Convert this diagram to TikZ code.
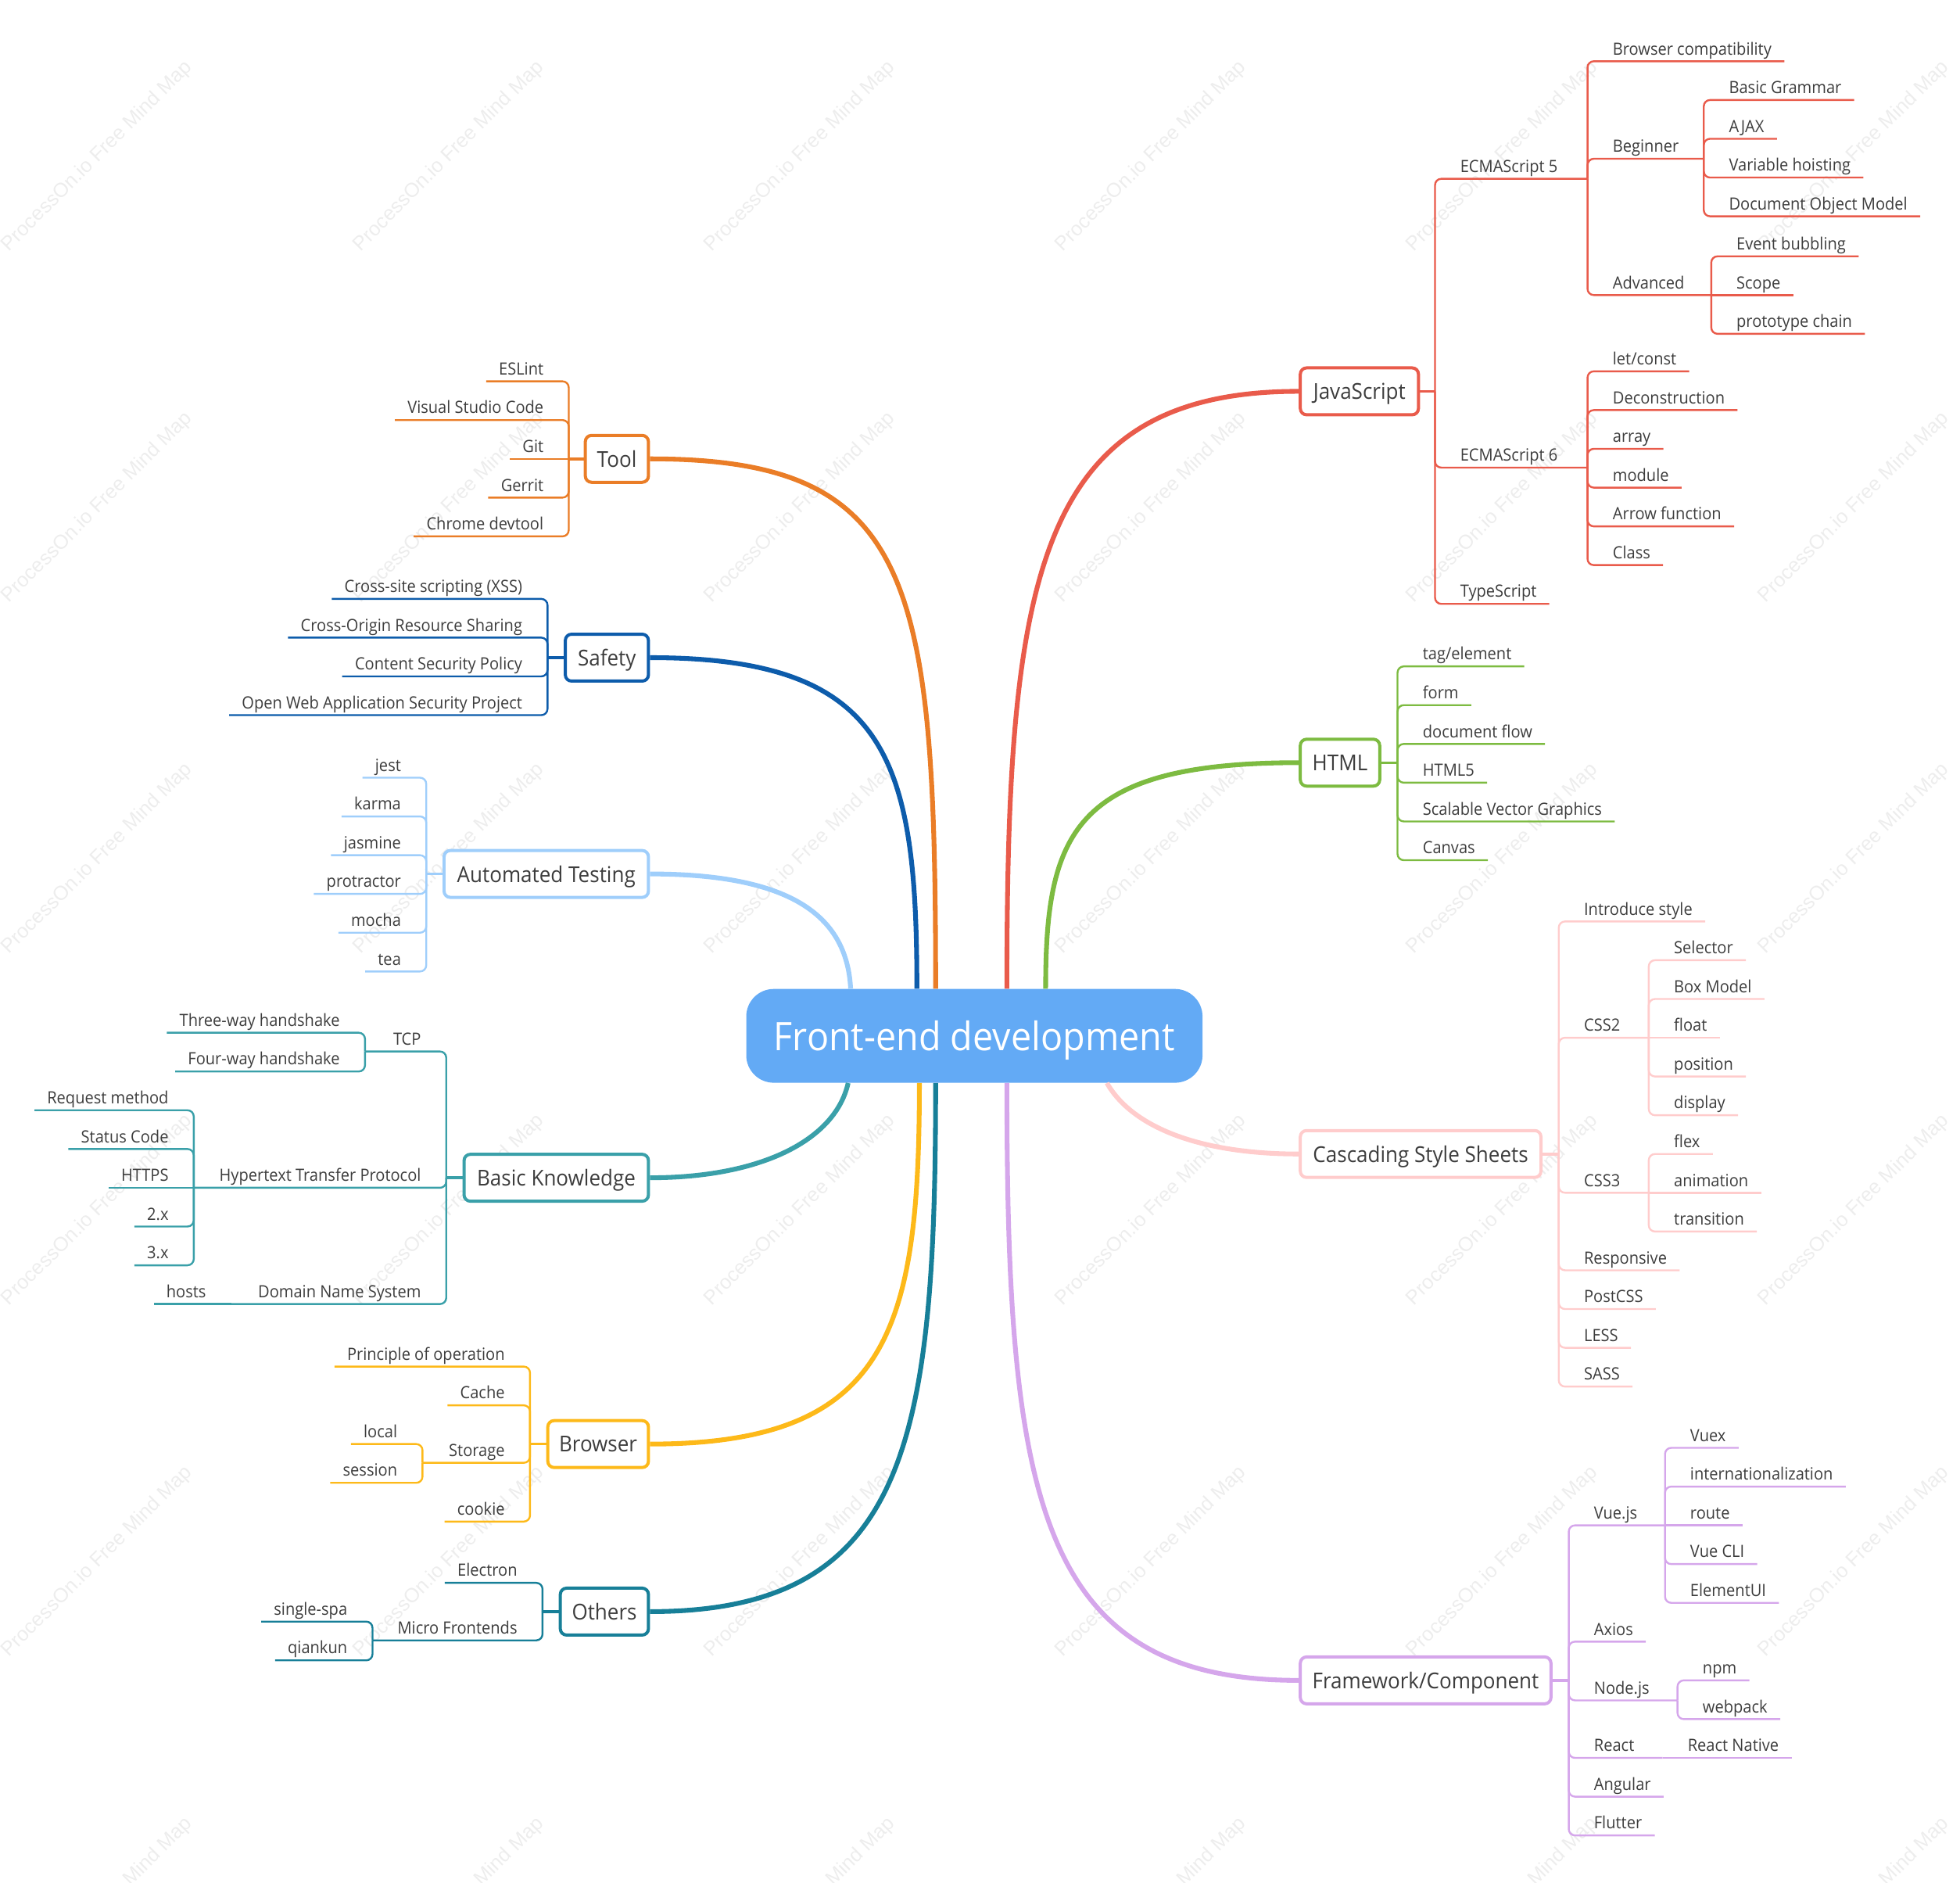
\documentclass[tikz,border=0pt]{standalone}
\usepackage{fontspec}
\setmainfont{Open Sans}[FakeStretch=0.93]
\newfontfamily\wmfont{Liberation Sans}
\definecolor{txtgray}{HTML}{3D3D3D}
\definecolor{wmgray}{HTML}{EDEDED}
\definecolor{rootblue}{HTML}{63AAF5}
\definecolor{jsred}{HTML}{E95B4B}
\definecolor{htmlgreen}{HTML}{7DBB41}
\definecolor{csspink}{HTML}{FFCCCC}
\definecolor{fwpurple}{HTML}{D5A6EB}
\definecolor{toolorange}{HTML}{EA7D27}
\definecolor{safeblue}{HTML}{0D5CAB}
\definecolor{testblue}{HTML}{9FCEFB}
\definecolor{basicteal}{HTML}{3AA0A9}
\definecolor{browyellow}{HTML}{FDB919}
\definecolor{othteal}{HTML}{177F98}
\newcommand\leaffont{\fontsize{13.5}{16}\selectfont}
\newcommand\topicfont{\fontsize{17.5}{21}\selectfont}
\newcommand\rootfont{\fontsize{31.4}{37}\selectfont}
\tikzset{
  leaf/.style={inner xsep=10pt, inner ysep=5pt, text height=10pt, text depth=0pt, font=\leaffont, text=txtgray},
  rleaf/.style={leaf, anchor=south west},
  lleaf/.style={leaf, anchor=south east},
  topic/.style={draw, line width=2.5pt, rounded corners=5pt, fill=white, minimum height=37.5pt, inner xsep=6pt, text depth=0pt, font=\topicfont, text=txtgray},
  branch/.style={line width=1.5pt, rounded corners=5pt},
  stub/.style={line width=2.2pt},
  trunk/.style={line width=3.8pt},
  watermark/.style={font=\wmfont\fontsize{16}{18}\selectfont, text=wmgray, rotate=45},
}
\begin{document}
\begin{tikzpicture}[x=1pt, y=-1pt]
\useasboundingbox (0,0) rectangle (1568,1506);
% watermark
\begin{scope}
\clip (0,0) rectangle (1568,1506);
\foreach \i in {0,...,5}
  \foreach \j in {0,...,5}
    \node[watermark] at ({78+281*\i},{125+281*\j}) {ProcessOn.io Free Mind Map};
\end{scope}

% centre and main topics
\node[fill=rootblue, rounded corners=22pt, minimum width=365pt, minimum height=75pt, text depth=0pt, text=white, font=\rootfont] (root) at (779.5,828.5) {Front-end development};
\node[topic, draw=jsred, minimum width=94.5pt, anchor=west] (js) at (1039,313) {JavaScript};
\node[topic, draw=htmlgreen, minimum width=63.5pt, anchor=west] (html) at (1039,610) {HTML};
\node[topic, draw=csspink, minimum width=192.5pt, anchor=west] (css) at (1039,923) {Cascading Style Sheets};
\node[topic, draw=fwpurple, minimum width=200.5pt, anchor=west] (fw) at (1039,1344) {Framework/Component};
\node[topic, draw=toolorange, minimum width=50.5pt, anchor=east] (tool) at (520,367) {Tool};
\node[topic, draw=safeblue, minimum width=66.5pt, anchor=east] (safe) at (520,526) {Safety};
\node[topic, draw=testblue, minimum width=163.5pt, anchor=east] (test) at (520,699) {Automated Testing};
\node[topic, draw=basicteal, minimum width=147.5pt, anchor=east] (basic) at (520,942) {Basic Knowledge};
\node[topic, draw=browyellow, minimum width=80.5pt, anchor=east] (brow) at (520,1155) {Browser};
\node[topic, draw=othteal, minimum width=70.5pt, anchor=east] (oth) at (520,1289) {Others};

\draw[trunk, jsred] ([xshift=26pt]root.north) .. controls +(0,-330) and +(-210,0) .. (js.west);
\draw[trunk, htmlgreen] ([xshift=57pt]root.north) .. controls +(0,-125) and +(-180,0) .. (html.west);
\draw[trunk, csspink] ([xshift=106pt]root.south) .. controls +(20,35) and +(-80,0) .. (css.west);
\draw[trunk, fwpurple] ([xshift=26pt]root.south) .. controls +(0,330) and +(-210,0) .. (fw.west);
\draw[trunk, toolorange] ([xshift=-31pt]root.north) .. controls +(0,-330) and +(210,0) .. (tool.east);
\draw[trunk, safeblue] ([xshift=-46pt]root.north) .. controls +(0,-185) and +(190,0) .. (safe.east);
\draw[trunk, testblue] ([xshift=-99pt]root.north) .. controls +(-3,-60) and +(110,0) .. (test.east);
\draw[trunk, basicteal] ([xshift=-101pt]root.south) .. controls +(-10,45) and +(90,0) .. (basic.east);
\draw[trunk, browyellow] ([xshift=-44pt]root.south) .. controls +(0,200) and +(190,0) .. (brow.east);
\draw[trunk, othteal] ([xshift=-31pt]root.south) .. controls +(0,290) and +(205,0) .. (oth.east);

% JavaScript
\coordinate (jsj) at (1148,313);
\coordinate (es5j) at (1270,143);
\coordinate (es6j) at (1270,374);
\coordinate (begj) at (1363,127);
\coordinate (advj) at (1369,236);
\draw[stub, jsred] (js.east) -- (jsj);
\node[rleaf] (es5) at (1158,143) {ECMAScript 5};
\node[rleaf] (es6) at (1158,374) {ECMAScript 6};
\node[rleaf] (ts) at (1158,483) {TypeScript};
\draw[branch, jsred] (jsj) |- (es5j);
\draw[branch, jsred] (jsj) |- (es6j);
\draw[branch, jsred] (jsj) |- (ts.south east);
\node[rleaf] (compat) at (1280,49) {Browser compatibility};
\node[rleaf] (beginner) at (1280,127) {Beginner};
\node[rleaf] (advanced) at (1280,236) {Advanced};
\draw[branch, jsred] (es5j) |- (compat.south east);
\draw[branch, jsred] (es5j) |- (begj);
\draw[branch, jsred] (es5j) |- (advj);
\node[rleaf] (grammar) at (1373,80) {Basic Grammar};
\node[rleaf] (ajax) at (1373,111) {AJAX};
\node[rleaf] (hoist) at (1373,142) {Variable hoisting};
\node[rleaf] (dom) at (1373,173) {Document Object Model};
\draw[branch, jsred] (begj) |- (grammar.south east);
\draw[branch, jsred] (begj) |- (ajax.south east);
\draw[branch, jsred] (begj) |- (hoist.south east);
\draw[branch, jsred] (begj) |- (dom.south east);
\node[rleaf] (bubble) at (1379,205) {Event bubbling};
\node[rleaf] (scope) at (1379,236) {Scope};
\node[rleaf] (proto) at (1379,267) {prototype chain};
\draw[branch, jsred] (advj) |- (bubble.south east);
\draw[branch, jsred] (advj) -- (scope.south east);
\draw[branch, jsred] (advj) |- (proto.south east);
\node[rleaf] (letc) at (1280,297) {let/const};
\node[rleaf] (decon) at (1280,328) {Deconstruction};
\node[rleaf] (array) at (1280,359) {array};
\node[rleaf] (module) at (1280,390) {module};
\node[rleaf] (arrow) at (1280,421) {Arrow function};
\node[rleaf] (class) at (1280,452) {Class};
\draw[branch, jsred] (es6j) |- (letc.south east);
\draw[branch, jsred] (es6j) |- (decon.south east);
\draw[branch, jsred] (es6j) |- (array.south east);
\draw[branch, jsred] (es6j) |- (module.south east);
\draw[branch, jsred] (es6j) |- (arrow.south east);
\draw[branch, jsred] (es6j) |- (class.south east);

% HTML
\coordinate (htmlj) at (1118,610);
\draw[stub, htmlgreen] (html.east) -- (htmlj);
\node[rleaf] (tag) at (1128,533) {tag/element};
\node[rleaf] (form) at (1128,564) {form};
\node[rleaf] (flow) at (1128,595) {document flow};
\node[rleaf] (html5) at (1128,626) {HTML5};
\node[rleaf] (svg) at (1128,657) {Scalable Vector Graphics};
\node[rleaf] (canvas) at (1128,688) {Canvas};
\draw[branch, htmlgreen] (htmlj) |- (tag.south east);
\draw[branch, htmlgreen] (htmlj) |- (form.south east);
\draw[branch, htmlgreen] (htmlj) |- (flow.south east);
\draw[branch, htmlgreen] (htmlj) |- (html5.south east);
\draw[branch, htmlgreen] (htmlj) |- (svg.south east);
\draw[branch, htmlgreen] (htmlj) |- (canvas.south east);

% CSS
\coordinate (cssj) at (1247,923);
\coordinate (css2j) at (1319,830);
\coordinate (css3j) at (1319,954);
\draw[stub, csspink] (css.east) -- (cssj);
\node[rleaf] (intro) at (1257,737) {Introduce style};
\node[rleaf] (css2) at (1257,830) {CSS2};
\node[rleaf] (css3) at (1257,954) {CSS3};
\node[rleaf] (resp) at (1257,1016) {Responsive};
\node[rleaf] (postcss) at (1257,1047) {PostCSS};
\node[rleaf] (less) at (1257,1078) {LESS};
\node[rleaf] (sass) at (1257,1109) {SASS};
\draw[branch, csspink] (cssj) |- (intro.south east);
\draw[branch, csspink] (cssj) |- (css2j);
\draw[branch, csspink] (cssj) |- (css3j);
\draw[branch, csspink] (cssj) |- (resp.south east);
\draw[branch, csspink] (cssj) |- (postcss.south east);
\draw[branch, csspink] (cssj) |- (less.south east);
\draw[branch, csspink] (cssj) |- (sass.south east);
\node[rleaf] (selector) at (1329,768) {Selector};
\node[rleaf] (boxm) at (1329,799) {Box Model};
\node[rleaf] (float) at (1329,830) {float};
\node[rleaf] (position) at (1329,861) {position};
\node[rleaf] (display) at (1329,892) {display};
\draw[branch, csspink] (css2j) |- (selector.south east);
\draw[branch, csspink] (css2j) |- (boxm.south east);
\draw[branch, csspink] (css2j) -- (float.south east);
\draw[branch, csspink] (css2j) |- (position.south east);
\draw[branch, csspink] (css2j) |- (display.south east);
\node[rleaf] (flex) at (1329,923) {flex};
\node[rleaf] (anim) at (1329,954) {animation};
\node[rleaf] (trans) at (1329,985) {transition};
\draw[branch, csspink] (css3j) |- (flex.south east);
\draw[branch, csspink] (css3j) -- (anim.south east);
\draw[branch, csspink] (css3j) |- (trans.south east);

% Framework/Component
\coordinate (fwj) at (1255,1344);
\coordinate (vuej) at (1332,1220);
\coordinate (nodej) at (1342,1360);
\coordinate (reactj) at (1330,1406);
\draw[stub, fwpurple] (fw.east) -- (fwj);
\node[rleaf] (vue) at (1265,1220) {Vue.js};
\node[rleaf] (axios) at (1265,1313) {Axios};
\node[rleaf] (nodejs) at (1265,1360) {Node.js};
\node[rleaf] (react) at (1265,1406) {React};
\node[rleaf] (angular) at (1265,1437) {Angular};
\node[rleaf] (flutter) at (1265,1468) {Flutter};
\draw[branch, fwpurple] (fwj) |- (vuej);
\draw[branch, fwpurple] (fwj) |- (axios.south east);
\draw[branch, fwpurple] (fwj) |- (nodej);
\draw[branch, fwpurple] (fwj) |- (reactj);
\draw[branch, fwpurple] (fwj) |- (angular.south east);
\draw[branch, fwpurple] (fwj) |- (flutter.south east);
\node[rleaf] (vuex) at (1342,1158) {Vuex};
\node[rleaf] (i18n) at (1342,1189) {internationalization};
\node[rleaf] (route) at (1342,1220) {route};
\node[rleaf] (vuecli) at (1342,1251) {Vue CLI};
\node[rleaf] (elemui) at (1342,1282) {ElementUI};
\draw[branch, fwpurple] (vuej) |- (vuex.south east);
\draw[branch, fwpurple] (vuej) |- (i18n.south east);
\draw[branch, fwpurple] (vuej) -- (route.south east);
\draw[branch, fwpurple] (vuej) |- (vuecli.south east);
\draw[branch, fwpurple] (vuej) |- (elemui.south east);
\node[rleaf] (npm) at (1352,1344) {npm};
\node[rleaf] (webpack) at (1352,1375) {webpack};
\draw[branch, fwpurple] (nodej) |- (npm.south east);
\draw[branch, fwpurple] (nodej) |- (webpack.south east);
\node[rleaf] (rn) at (1340,1406) {React Native};
\draw[branch, fwpurple] (reactj) -- (rn.south east);

% Tool
\coordinate (toolj) at (455,367);
\draw[stub, toolorange] (tool.west) -- (toolj);
\node[lleaf] (eslint) at (445,305) {ESLint};
\node[lleaf] (vscode) at (445,336) {Visual Studio Code};
\node[lleaf] (git) at (445,367) {Git};
\node[lleaf] (gerrit) at (445,398) {Gerrit};
\node[lleaf] (devtool) at (445,429) {Chrome devtool};
\draw[branch, toolorange] (toolj) |- (eslint.south west);
\draw[branch, toolorange] (toolj) |- (vscode.south west);
\draw[branch, toolorange] (toolj) -- (git.south west);
\draw[branch, toolorange] (toolj) |- (gerrit.south west);
\draw[branch, toolorange] (toolj) |- (devtool.south west);

% Safety
\coordinate (safej) at (438,526);
\draw[stub, safeblue] (safe.west) -- (safej);
\node[lleaf] (xss) at (428,479) {Cross-site scripting (XSS)};
\node[lleaf] (cors) at (428,510) {Cross-Origin Resource Sharing};
\node[lleaf] (csp) at (428,541) {Content Security Policy};
\node[lleaf] (owasp) at (428,572) {Open Web Application Security Project};
\draw[branch, safeblue] (safej) |- (xss.south west);
\draw[branch, safeblue] (safej) |- (cors.south west);
\draw[branch, safeblue] (safej) |- (csp.south west);
\draw[branch, safeblue] (safej) |- (owasp.south west);

% Automated Testing
\coordinate (testj) at (341,699);
\draw[stub, testblue] (test.west) -- (testj);
\node[lleaf] (jest) at (331,622) {jest};
\node[lleaf] (karma) at (331,653) {karma};
\node[lleaf] (jasmine) at (331,684) {jasmine};
\node[lleaf] (protractor) at (331,715) {protractor};
\node[lleaf] (mocha) at (331,746) {mocha};
\node[lleaf] (tea) at (331,777) {tea};
\draw[branch, testblue] (testj) |- (jest.south west);
\draw[branch, testblue] (testj) |- (karma.south west);
\draw[branch, testblue] (testj) |- (jasmine.south west);
\draw[branch, testblue] (testj) |- (protractor.south west);
\draw[branch, testblue] (testj) |- (mocha.south west);
\draw[branch, testblue] (testj) |- (tea.south west);

% Basic Knowledge
\coordinate (basicj) at (357,942);
\coordinate (tcpj) at (292,841);
\coordinate (httpj) at (155,950);
\coordinate (dnsj) at (185,1043);
\draw[stub, basicteal] (basic.west) -- (basicj);
\node[lleaf] (tcp) at (347,841) {TCP};
\node[lleaf] (http) at (347,950) {Hypertext Transfer Protocol};
\node[lleaf] (dns) at (347,1043) {Domain Name System};
\draw[branch, basicteal] (basicj) |- (tcpj);
\draw[branch, basicteal] (basicj) |- (httpj);
\draw[branch, basicteal] (basicj) |- (dnsj);
\node[lleaf] (three) at (282,826) {Three-way handshake};
\node[lleaf] (four) at (282,857) {Four-way handshake};
\draw[branch, basicteal] (tcpj) |- (three.south west);
\draw[branch, basicteal] (tcpj) |- (four.south west);
\node[lleaf] (method) at (145,888) {Request method};
\node[lleaf] (status) at (145,919) {Status Code};
\node[lleaf] (https) at (145,950) {HTTPS};
\node[lleaf] (v2) at (145,981) {2.x};
\node[lleaf] (v3) at (145,1012) {3.x};
\draw[branch, basicteal] (httpj) |- (method.south west);
\draw[branch, basicteal] (httpj) |- (status.south west);
\draw[branch, basicteal] (httpj) -- (https.south west);
\draw[branch, basicteal] (httpj) |- (v2.south west);
\draw[branch, basicteal] (httpj) |- (v3.south west);
\node[lleaf] (hosts) at (175,1043) {hosts};
\draw[branch, basicteal] (dnsj) -- (hosts.south west);

% Browser
\coordinate (browj) at (424,1155);
\coordinate (storj) at (338,1170);
\draw[stub, browyellow] (brow.west) -- (browj);
\node[lleaf] (principle) at (414,1093) {Principle of operation};
\node[lleaf] (cache) at (414,1124) {Cache};
\node[lleaf] (storage) at (414,1170) {Storage};
\node[lleaf] (cookie) at (414,1217) {cookie};
\draw[branch, browyellow] (browj) |- (principle.south west);
\draw[branch, browyellow] (browj) |- (cache.south west);
\draw[branch, browyellow] (browj) |- (storj);
\draw[branch, browyellow] (browj) |- (cookie.south west);
\node[lleaf] (local) at (328,1155) {local};
\node[lleaf] (session) at (328,1186) {session};
\draw[branch, browyellow] (storj) |- (local.south west);
\draw[branch, browyellow] (storj) |- (session.south west);

% Others
\coordinate (othj) at (434,1289);
\coordinate (microj) at (298,1312);
\draw[stub, othteal] (oth.west) -- (othj);
\node[lleaf] (electron) at (424,1266) {Electron};
\node[lleaf] (micro) at (424,1312) {Micro Frontends};
\draw[branch, othteal] (othj) |- (electron.south west);
\draw[branch, othteal] (othj) |- (microj);
\node[lleaf] (spa) at (288,1297) {single-spa};
\node[lleaf] (qiankun) at (288,1328) {qiankun};
\draw[branch, othteal] (microj) |- (spa.south west);
\draw[branch, othteal] (microj) |- (qiankun.south west);
\end{tikzpicture}
\end{document}
